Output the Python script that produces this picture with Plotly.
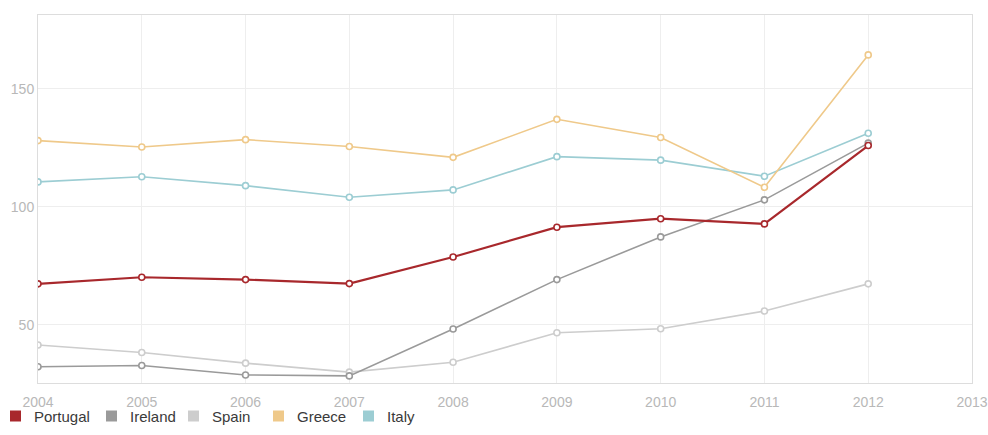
import plotly.graph_objects as go

# Yearly values per country
years = [2004, 2005, 2006, 2007, 2008, 2009, 2010, 2011, 2012]
portugal = [67.4, 70.2, 69.2, 67.5, 78.8, 91.4, 95.0, 92.8, 126.0]
ireland = [32.3, 32.8, 28.8, 28.4, 48.3, 69.2, 87.3, 103.0, 127.0]
spain = [41.5, 38.3, 33.8, 30.0, 34.2, 46.7, 48.4, 55.9, 67.4]
greece = [128.1, 125.4, 128.5, 125.6, 121.0, 137.1, 129.4, 108.3, 164.4]
italy = [110.6, 112.8, 109.0, 104.1, 107.2, 121.3, 119.8, 113.0, 131.2]

x_ticks = [2004, 2005, 2006, 2007, 2008, 2009, 2010, 2011, 2012, 2013]
y_ticks = [50, 100, 150]

series = [
    ("Portugal", portugal, "#a8282c", 2.2),
    ("Ireland", ireland, "#9a9a9a", 1.6),
    ("Spain", spain, "#cdcdcd", 1.6),
    ("Greece", greece, "#efc98a", 1.6),
    ("Italy", italy, "#9ccdd3", 1.6),
]

W, H = 988, 435
M_L, M_R, M_T, M_B = 38, 16, 15, 52
PW, PH = W - M_L - M_R, H - M_T - M_B


def px_to_paper_x(px):
    return (px - M_L) / PW


def px_to_paper_y(py):
    return (H - M_B - py) / PH


fig = go.Figure()

# lines, drawn so that Portugal ends up on top
for name, vals, color, width in reversed(series):
    fig.add_trace(go.Scatter(
        x=years, y=vals, mode="lines+markers", name=name,
        line=dict(color=color, width=width),
        marker=dict(symbol="circle", size=6, color="white",
                    line=dict(color=color, width=1.6)),
        showlegend=False, hoverinfo="x+y+name",
    ))

# legend row under the chart: colour square plus label
legend_left = [10, 106, 188, 273, 363]
key_size = 11
key_center_y = 416
shapes = []
annotations = []
for (name, vals, color, width), left in zip(series, legend_left):
    shapes.append(dict(
        type="rect", xref="paper", yref="paper", layer="above",
        x0=px_to_paper_x(left), x1=px_to_paper_x(left + key_size),
        y0=px_to_paper_y(key_center_y + key_size / 2),
        y1=px_to_paper_y(key_center_y - key_size / 2),
        fillcolor=color, line=dict(width=0),
    ))
    annotations.append(dict(
        xref="paper", yref="paper", showarrow=False,
        x=px_to_paper_x(left + key_size + 11), y=px_to_paper_y(key_center_y),
        xanchor="left", yanchor="middle", text=name,
        font=dict(size=15, color="#3a3a3a"),
    ))

fig.update_layout(
    width=W, height=H,
    margin=dict(l=M_L, r=M_R, t=M_T, b=M_B, autoexpand=False),
    paper_bgcolor="white", plot_bgcolor="white",
    font=dict(family="Arial, Liberation Sans, sans-serif"),
    showlegend=False,
    shapes=shapes,
    annotations=annotations,
    xaxis=dict(
        range=[2004, 2013], tickvals=x_ticks,
        ticktext=[str(t) for t in x_ticks],
        showgrid=True, gridcolor="#eeeeee", gridwidth=1,
        zeroline=False, showline=True, linecolor="#dddddd", linewidth=1,
        mirror=True, ticks="", ticklabelstandoff=6, automargin=False,
        tickfont=dict(size=14, color="#b8b8b8"),
    ),
    yaxis=dict(
        range=[25.4, 181.3], tickvals=y_ticks,
        showgrid=True, gridcolor="#eeeeee", gridwidth=1,
        zeroline=False, showline=True, linecolor="#dddddd", linewidth=1,
        mirror=True, ticks="", ticklabelstandoff=0, automargin=False,
        tickfont=dict(size=14, color="#b8b8b8"),
    ),
)

fig.write_html("out.html")
